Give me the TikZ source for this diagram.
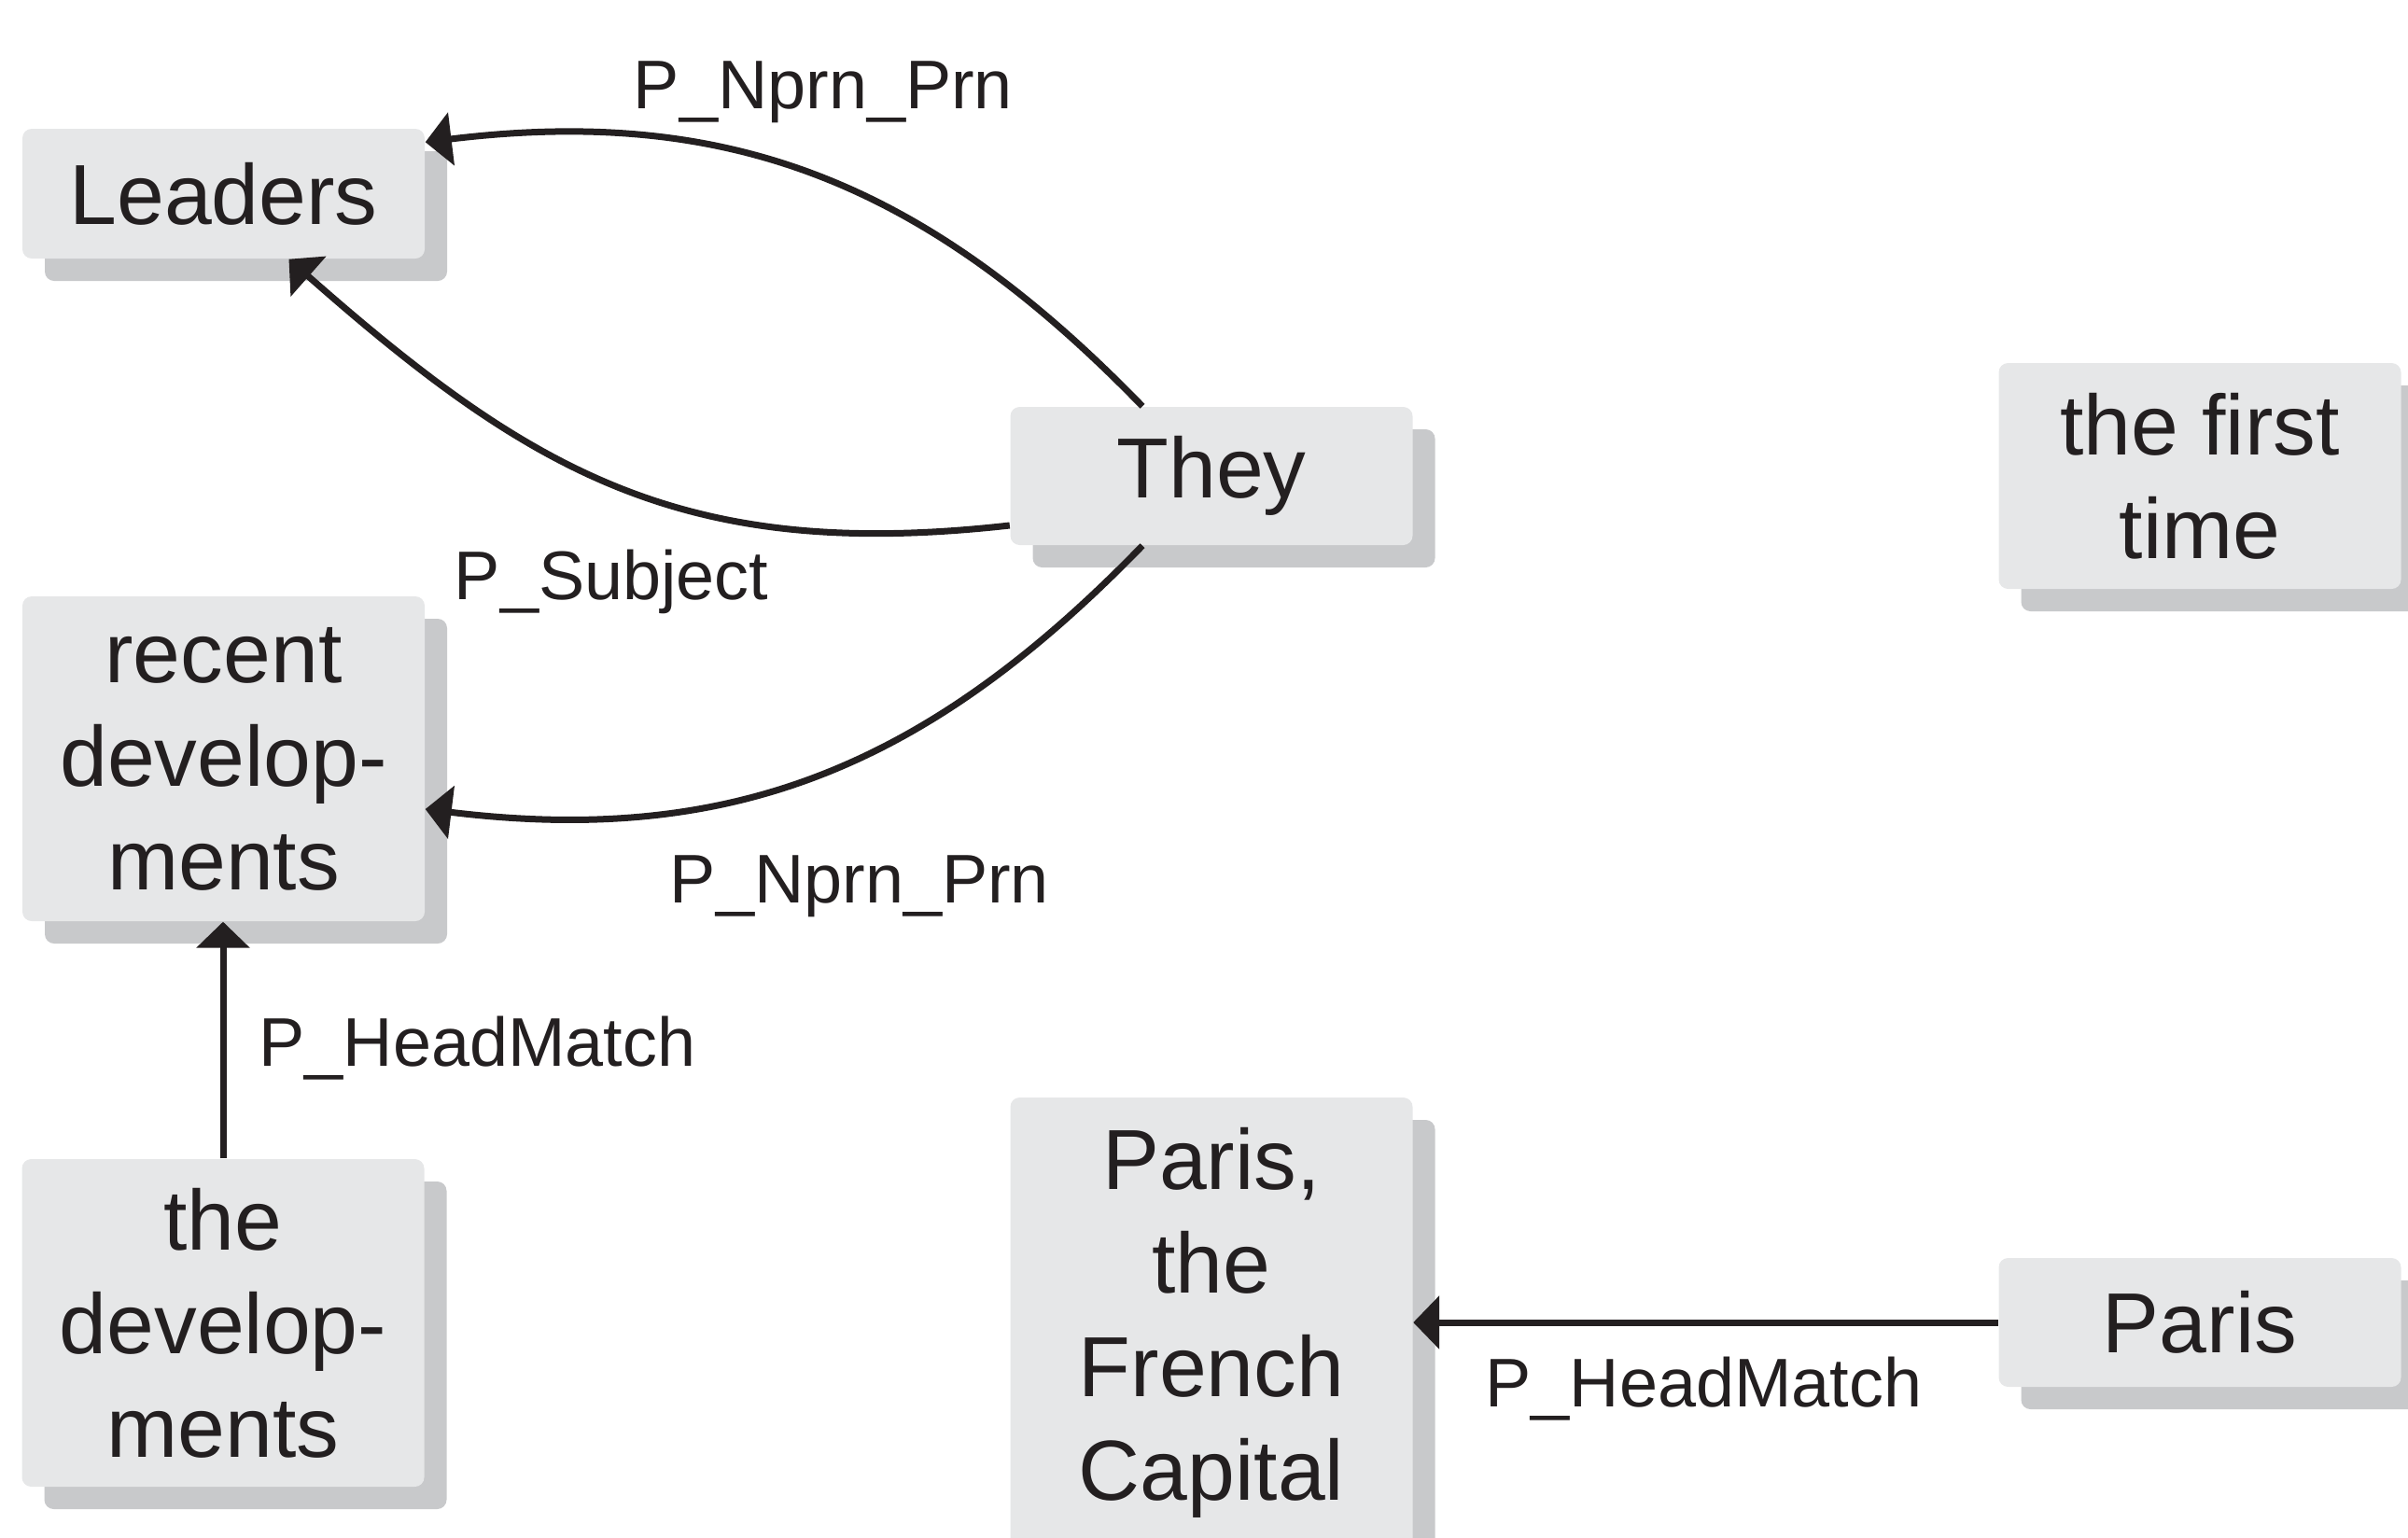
\documentclass[tikz,border=0pt]{standalone}
\usepackage{fontspec}
\setmainfont{Liberation Sans}
\usepackage{tikz}
\usetikzlibrary{arrows.meta, shadows}
\usepackage{xcolor}
\definecolor{boxgray}{HTML}{E6E7E8}
\definecolor{shadegray}{HTML}{C8C9CB}
\definecolor{ink}{HTML}{231F20}

\begin{document}
\begin{tikzpicture}[
  box/.style={rectangle,
    rounded corners=0.1cm,
    fill=boxgray,
    text=ink,
    align=center,
    inner sep=0pt,
    minimum width=4.31cm,
    font=\fontsize{26}{31.6}\selectfont,
    drop shadow={fill=shadegray, opacity=1,
      shadow xshift=0.24cm, shadow yshift=-0.24cm}},
  rel/.style={text=ink,
    anchor=base,
    inner sep=0pt,
    font=\fontsize{21}{25}\selectfont},
  link/.style={draw=ink,
    line width=0.07cm,
    -{Triangle[length=0.28cm, width=0.56cm]}}]
  \useasboundingbox (0,0) rectangle (25.8,-16.48);
  \clip (0,0) rectangle (25.8,-16.48);

  % Mentions in the left column.
  \node [box, minimum height=1.39cm] (leaders) at (2.395,-2.075) {Leaders};
  \node [box, minimum height=3.48cm] (recent) at (2.395,-8.13) {recent\\develop-\\ments};
  \node [box, minimum height=3.51cm] (devs) at (2.39,-14.175) {the\\develop-\\ments};

  % Mentions in the middle column.
  \node [box, minimum height=1.48cm] (they) at (12.98,-5.10) {They};
  \node [box, minimum height=4.82cm] (capital) at (12.98,-14.17) {Paris,\\the\\French\\Capital};

  % Mentions in the right column.
  \node [box, minimum height=2.42cm] (first) at (23.57,-5.10) {the first\\time};
  \node [box, minimum height=1.38cm] (paris) at (23.57,-14.17) {Paris};

  % They refers back to Leaders (two links).
  \draw [link] ([xshift=-0.74cm]they.north)
    .. controls +(-2.31,2.38) and +(3.27,0.40) .. ([yshift=-0.15cm]leaders.north east);
  \node [rel] (nprntop) at (8.82,-1.16) {P\_Nprn\_Prn};
  \draw [link] ([yshift=-0.53cm]they.west)
    .. controls +(-3.47,-0.39) and +(2.62,-2.31) .. ([xshift=0.70cm]leaders.south);
  \node [rel] (subject) at (6.55,-6.42) {P\_Subject};

  % They refers back to recent developments.
  \draw [link] ([xshift=-0.74cm]they.south)
    .. controls +(-2.31,-2.38) and +(3.27,-0.40) .. ([yshift=-0.54cm]recent.east);
  \node [rel] (nprnlow) at (9.21,-9.67) {P\_Nprn\_Prn};

  % Head matches.
  \draw [link] (devs.north) -- (devs.north |- recent.south);
  \node [rel] (headleft) at (5.115,-11.42) {P\_HeadMatch};
  \draw [link] (paris.west) -- (paris.west -| capital.east);
  \node [rel] (headright) at (18.255,-15.07) {P\_HeadMatch};
\end{tikzpicture}
\end{document}
